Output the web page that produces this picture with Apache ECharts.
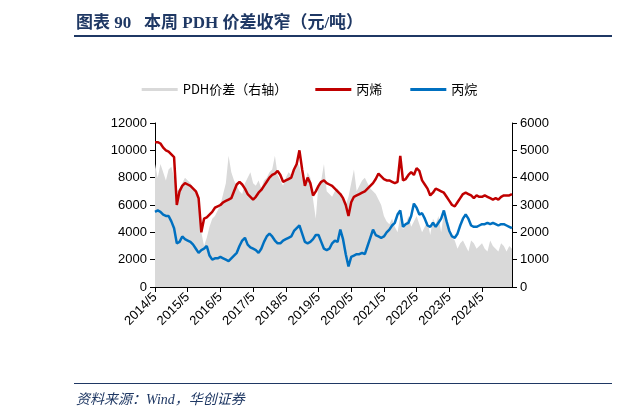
<!DOCTYPE html><html><head><meta charset="utf-8"><script src="https://cdn.jsdelivr.net/npm/echarts@6/dist/echarts.min.js"></script>
<style>body{margin:0;background:#fff;font-family:"Noto Sans CJK SC",sans-serif}#t{position:absolute;left:76px;top:8px;font-size:17px;font-weight:bold;color:#1f3864;font-family:"Liberation Serif","Noto Sans CJK SC",serif}#l1{position:absolute;left:74px;top:35px;width:538px;height:2px;background:#1f3864}#l2{position:absolute;left:74px;top:383px;width:538px;height:1px;background:#1f3864}#s{position:absolute;left:76px;top:388px;font-size:14px;font-style:italic;color:#1f3864;font-family:"Liberation Serif","Noto Sans CJK SC",serif}#c{position:absolute;left:0;top:0;width:619px;height:420px}</style></head><body>
<div id="c"></div><div id="t">图表 90&nbsp;&nbsp;&nbsp;本周 PDH 价差收窄（元/吨）</div><div id="l1"></div><div id="l2"></div><div id="s">资料来源：Wind，华创证券</div>
<script>
const propylene=[10600,10600,10500,10200,10000,9900,9700,9500,6000,7000,
7400,7600,7500,7400,7200,7000,6500,4000,5000,5100,
5300,5500,5800,5900,6000,6200,6300,6400,6500,7000,
7500,7700,7500,7200,6800,6600,6400,6600,6900,7100,
7400,7700,8000,8200,8300,8500,8200,7700,7800,7900,
8000,8600,9000,10000,8600,7400,8000,7600,6700,7000,
7400,7700,7800,7600,7500,7400,7200,7000,6800,6500,
6000,5200,6200,6600,6700,6800,6900,7000,7200,7400,
7600,7900,8300,8100,7900,7800,7800,7700,7600,7700,
9600,7800,7900,8200,8400,8200,8700,8500,7800,7500,
7200,6700,6900,7200,7100,7000,6900,6600,6300,6000,
5900,6200,6500,6800,6900,6800,6700,6500,6700,6600,
6600,6700,6600,6500,6400,6500,6400,6600,6700,6700,6700,6800];
const propane=[5500,5600,5500,5300,5200,5200,4800,4300,3200,3300,
3700,3500,3400,3300,3100,2800,2500,2700,2800,3000,
2300,2000,2100,2100,2200,2100,2000,1900,2100,2300,
2500,3000,3400,3600,3100,2900,2800,2700,2500,2800,
3300,3700,3900,3700,3400,3200,3200,3400,3500,3600,
3700,4100,4300,4500,3900,3300,3200,3300,3500,3800,
3800,3300,2800,2700,2800,3200,3400,3300,4200,3500,
2400,1500,2200,2300,2400,2400,2500,2400,3000,3600,
4200,3800,3700,3600,3700,4000,4200,4500,4700,5300,
5600,4400,4600,4700,5200,6100,5800,5300,5400,5000,
4500,4400,4700,4400,4700,5000,5600,4800,4100,3700,
3600,3900,4500,5000,5300,5000,4500,4400,4400,4500,
4600,4600,4700,4600,4700,4600,4500,4600,4600,4500,4400,4300];
const spread=[4500,4000,4500,4200,3900,4300,4400,4000,3500,3600,
3800,4000,3900,3800,3600,3400,3200,2000,1500,1800,
2200,2500,2600,2800,3000,3400,3800,4800,4200,3900,
3700,3500,3400,3800,4000,4200,3800,3700,3900,3600,
3900,4000,4200,4300,4800,4100,3900,3700,4000,4200,
4100,4300,4600,4400,4000,3700,4200,4000,3200,2500,
3800,3900,4500,3500,3400,3300,3500,3600,3400,3200,
3000,3300,3800,4300,3500,3700,3900,4000,3800,3600,
3500,3400,3200,3000,2600,2400,2300,2500,2200,2000,
2600,2100,2300,2600,2200,2400,2600,2300,2000,2200,
2400,1900,2500,2300,2600,2000,2700,2300,2000,1800,
1700,1400,1600,1700,1500,1300,1700,1600,1400,1500,
1600,1400,1300,1700,1500,1400,1300,1600,1500,1300,1500,1400];
const dates=[];for(let i=0;i<propylene.length;i++){const m=(4+i)%12+1,y=2014+Math.floor((4+i)/12);dates.push(y+'/'+m);}
const ch=echarts.init(document.getElementById('c'));
const f='"Liberation Sans",Arial,sans-serif';
ch.setOption({animation:false,
legend:{top:78,left:'center',itemGap:28,textStyle:{fontSize:13,color:'#000',fontFamily:'"Noto Sans CJK SC"'},
 data:[{name:'PDH价差（右轴）',icon:'rect'},{name:'丙烯',icon:'rect'},{name:'丙烷',icon:'rect'}],itemWidth:36,itemHeight:3},
grid:{left:155,right:107,top:123,bottom:133},
xAxis:{type:'category',data:dates,boundaryGap:false,axisLine:{lineStyle:{color:'#000'}},axisTick:{interval:11,lineStyle:{color:'#000'}},
 axisLabel:{interval:11,rotate:45,fontSize:13,color:'#000',fontFamily:f}},
yAxis:[{type:'value',min:0,max:12000,interval:2000,splitLine:{show:false},axisLine:{show:true,lineStyle:{color:'#000'}},axisTick:{show:true},axisLabel:{fontSize:13,color:'#000',fontFamily:f,formatter:v=>String(v)}},
 {type:'value',min:0,max:6000,interval:1000,splitLine:{show:false},axisLine:{show:true,lineStyle:{color:'#000'}},axisTick:{show:true},axisLabel:{fontSize:13,color:'#000',fontFamily:f,formatter:v=>String(v)}}],
series:[{name:'PDH价差（右轴）',type:'line',yAxisIndex:1,data:spread,symbol:'none',lineStyle:{width:0},areaStyle:{color:'#d9d9d9',opacity:1},itemStyle:{color:'#d9d9d9'}},
 {name:'丙烯',type:'line',data:propylene,symbol:'none',lineStyle:{width:2.5,color:'#c00000'},itemStyle:{color:'#c00000'}},
 {name:'丙烷',type:'line',data:propane,symbol:'none',lineStyle:{width:2.5,color:'#0070c0'},itemStyle:{color:'#0070c0'}}]});
</script></body></html>
